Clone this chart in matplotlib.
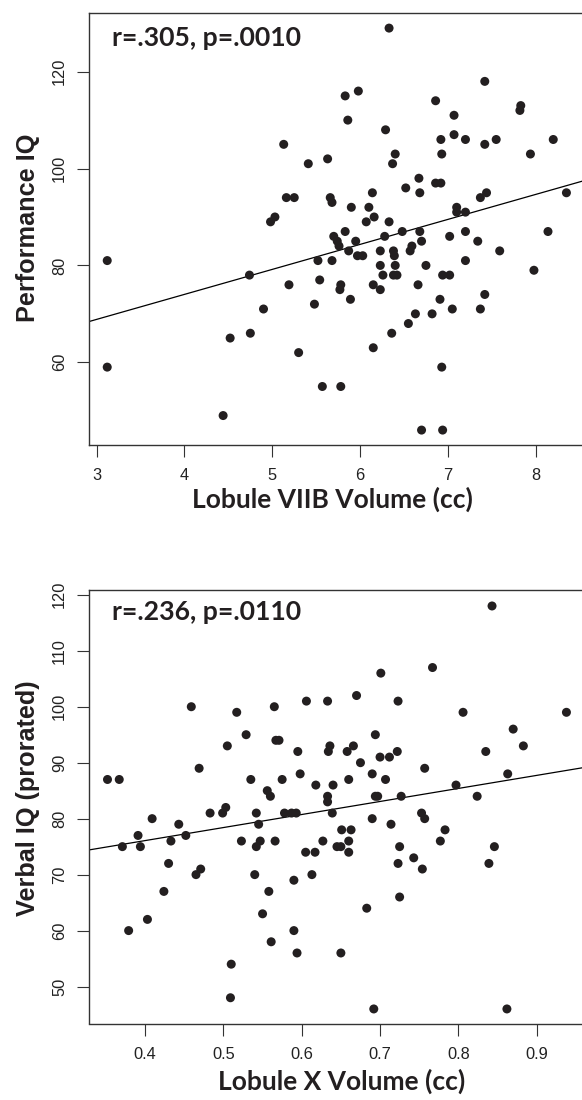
import numpy as np
import matplotlib
matplotlib.use('Agg')
import matplotlib.pyplot as plt

# Painel superior: Performance IQ x volume do lobulo VIIB
perf_x = [3.12, 3.12, 4.44, 4.52, 4.74, 4.75, 4.90, 4.98, 5.03, 5.13, 5.16, 5.19, 5.25, 5.30,
          5.41, 5.48, 5.52, 5.54, 5.57, 5.63, 5.66, 5.68, 5.68, 5.70, 5.74, 5.76, 5.77, 5.78,
          5.78, 5.83, 5.83, 5.86, 5.87, 5.89, 5.90, 5.95, 5.97, 5.98, 6.03, 6.07, 6.10, 6.14,
          6.15, 6.15, 6.16, 6.23, 6.23, 6.23, 6.26, 6.28, 6.29, 6.33, 6.33, 6.36, 6.37, 6.38,
          6.39, 6.38, 6.40, 6.40, 6.42, 6.48, 6.52, 6.55, 6.57, 6.59, 6.63, 6.66, 6.67, 6.68,
          6.68, 6.70, 6.70, 6.75, 6.82, 6.86, 6.86, 6.91, 6.92, 6.92, 6.93, 6.93, 6.94, 6.94,
          7.02, 7.02, 7.05, 7.07, 7.07, 7.10, 7.10, 7.20, 7.20, 7.20, 7.20, 7.34, 7.37, 7.37,
          7.42, 7.42, 7.42, 7.44, 7.55, 7.59, 7.82, 7.83, 7.94, 7.98, 8.14, 8.20, 8.35]
perf_y = [81, 59, 49, 65, 78, 66, 71, 89, 90, 105, 94, 76, 94, 62,
          101, 72, 81, 77, 55, 102, 94, 93, 81, 86, 85, 84, 75, 76,
          55, 87, 115, 110, 83, 73, 92, 85, 82, 116, 82, 89, 92, 95,
          76, 63, 90, 83, 80, 75, 78, 86, 108, 89, 129, 66, 101, 83,
          82, 78, 103, 80, 78, 87, 96, 68, 83, 84, 70, 76, 98, 95,
          87, 85, 46, 80, 70, 97, 114, 73, 97, 106, 103, 59, 78, 46,
          86, 78, 71, 111, 107, 92, 91, 106, 91, 87, 81, 85, 94, 71,
          118, 105, 74, 95, 106, 83, 112, 113, 103, 79, 87, 106, 95]
perf_fit = (5.16, 53.38)  # inclinacao, intercepto
perf_texto = 'r=.305, p=.0010'
perf_xticks = [3, 4, 5, 6, 7, 8]
perf_yticks = [60, 80, 100, 120]

# Painel inferior: Verbal IQ x volume do lobulo X
verbal_x = [0.352, 0.367, 0.371, 0.379, 0.391, 0.394, 0.403, 0.409, 0.424, 0.430, 0.433, 0.443,
            0.452, 0.459, 0.465, 0.469, 0.471, 0.483, 0.499, 0.503, 0.505, 0.509, 0.510, 0.517,
            0.523, 0.529, 0.535, 0.540, 0.542, 0.542, 0.545, 0.547, 0.550, 0.556, 0.558, 0.560,
            0.561, 0.565, 0.566, 0.567, 0.571, 0.575, 0.578, 0.587, 0.590, 0.590, 0.593, 0.594,
            0.595, 0.598, 0.605, 0.606, 0.613, 0.617, 0.618, 0.627, 0.633, 0.633, 0.633, 0.634,
            0.636, 0.639, 0.640, 0.645, 0.650, 0.650, 0.651, 0.658, 0.660, 0.660, 0.660, 0.663,
            0.666, 0.670, 0.675, 0.683, 0.690, 0.690, 0.692, 0.694, 0.694, 0.697, 0.700, 0.701,
            0.707, 0.712, 0.714, 0.722, 0.723, 0.723, 0.725, 0.725, 0.727, 0.743, 0.753, 0.754,
            0.757, 0.757, 0.767, 0.777, 0.783, 0.797, 0.806, 0.824, 0.835, 0.839, 0.843, 0.846,
            0.862, 0.863, 0.870, 0.883, 0.938]
verbal_y = [87, 87, 75, 60, 77, 75, 62, 80, 67, 72, 76, 79,
            77, 100, 70, 89, 71, 81, 81, 82, 93, 48, 54, 99,
            76, 95, 87, 70, 81, 75, 79, 76, 63, 85, 67, 84,
            58, 100, 76, 94, 94, 87, 81, 81, 69, 60, 81, 56,
            92, 88, 74, 101, 70, 74, 86, 76, 101, 84, 83, 92,
            93, 81, 86, 75, 75, 56, 78, 92, 87, 76, 74, 78,
            93, 102, 90, 64, 88, 80, 46, 95, 84, 84, 91, 106,
            87, 91, 79, 92, 101, 72, 75, 66, 84, 73, 81, 71,
            89, 80, 107, 76, 78, 86, 99, 84, 92, 72, 118, 75,
            46, 88, 96, 93, 99]
verbal_fit = (23.3, 66.76)
verbal_texto = 'r=.236, p=.0110'
verbal_xticks = [0.4, 0.5, 0.6, 0.7, 0.8, 0.9]
verbal_yticks = [50, 60, 70, 80, 90, 100, 110, 120]

W, H = 582, 1100
fig = plt.figure(figsize=(W / 100, H / 100), dpi=100)

cor_ponto = '#231f20'
cor_eixo = '#333333'

def painel(rect, xs, ys, fit, texto, xticks, yticks, xlim, ylim, ylabel, xlabel, label_y, xlabel_x, texto_y):
    ax = fig.add_axes(rect)
    ax.scatter(xs, ys, s=42, color=cor_ponto, edgecolors='none', zorder=3)
    ax.axline((0, fit[1]), slope=fit[0], color='black', lw=0.9, zorder=2)
    ax.set_xlim(*xlim)
    ax.set_ylim(*ylim)
    ax.set_xticks(xticks)
    ax.set_yticks(yticks)
    ax.set_xticklabels([str(t) for t in xticks])
    ax.set_yticklabels([str(t) for t in yticks], rotation=90, va='center')
    ax.tick_params(length=8.6, width=0.8, color=cor_eixo, labelcolor='#222222', labelsize=11.8)
    ax.tick_params(axis='x', pad=8)
    ax.tick_params(axis='y', pad=7)
    for lab in ax.get_xticklabels() + ax.get_yticklabels():
        lab.set_fontfamily('Liberation Sans')
    for sp in ax.spines.values():
        sp.set_color(cor_eixo)
        sp.set_linewidth(1.0)
    ax.text(0.047, texto_y, texto, transform=ax.transAxes, fontsize=19.2,
            fontfamily='Lato', fontweight='bold', color='#231f20', va='baseline')
    fig.text(28 / W, 1 - label_y / H, ylabel, rotation=90, ha='center', va='center',
             fontsize=18.2, fontfamily='Liberation Sans', fontweight='bold', color='#231f20')
    fig.text(xlabel_x[0] / W, 1 - xlabel_x[1] / H, xlabel, ha='center', va='baseline',
             fontsize=19, fontfamily='Lato', fontweight='bold', color='#231f20')
    return ax

painel([88.7 / W, 1 - 445 / H, (587.5 - 88.7) / W, (445 - 12.7) / H],
       perf_x, perf_y, perf_fit, perf_texto, perf_xticks, perf_yticks,
       (2.909, 8.590), (42.92, 132.18), 'Performance IQ', 'Lobule VIIB Volume (cc)',
       227.5, (332, 508), 0.9237)

painel([88.7 / W, 1 - 1023.5 / H, (586.8 - 88.7) / W, (1023.5 - 590.3) / H],
       verbal_x, verbal_y, verbal_fit, verbal_texto, verbal_xticks, verbal_yticks,
       (0.328, 0.964), (43.4, 120.8), 'Verbal IQ (prorated)', 'Lobule X Volume (cc)',
       798, (341.5, 1090), 0.9314)

fig.savefig('out.png', dpi=100)
